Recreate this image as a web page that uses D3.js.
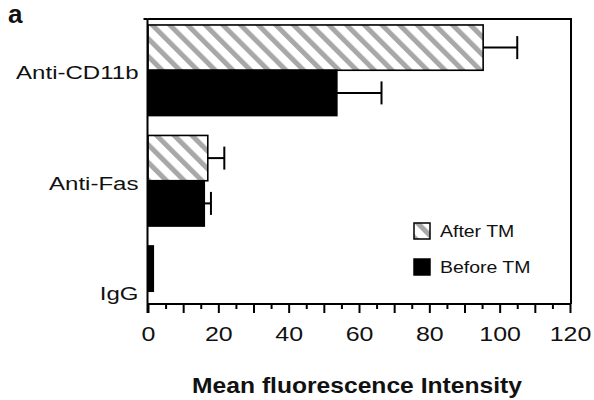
<!DOCTYPE html>
<html>
<head>
<meta charset="utf-8">
<script src="https://cdn.jsdelivr.net/npm/d3@7"></script>
<style>
  html, body { margin: 0; padding: 0; background: #fff; }
  svg { display: block; }
  text { font-family: "Liberation Sans", Arial, Helvetica, sans-serif; fill: #111; }
</style>
</head>
<body>
<svg id="chart" width="594" height="400"></svg>
<script>
// ---- data ----
const categories = ["Anti-CD11b", "Anti-Fas", "IgG"];
const seriesNames = ["After TM", "Before TM"];
const afterTM = [95.3, 17.0, 1.5];
const afterErr = [9.7, 4.7, null];
const beforeTM = [53.7, 16.0, null];
const beforeErr = [12.7, 1.9, null];
const xTickLabels = [0, 20, 40, 60, 80, 100, 120];
const xMinorTicks = d3.range(0, 121, 5);
const xTitle = "Mean fluorescence Intensity";
const panelLabel = "a";

// ---- layout ----
const svg = d3.select("#chart");
const pLeft = 147.5, pRight = 571, pTop = 19, pBottom = 304;

const x = d3.scaleLinear().domain([0, 120]).range([148, 570]);
const y = d3.scaleBand().domain(categories).range([pTop, 342.5])
  .paddingInner(0.18).paddingOuter(0.054);
const ySub = d3.scaleBand().domain(seriesNames).range([0, y.bandwidth()]);

// hatch pattern
const defs = svg.append("defs");
const pat = defs.append("pattern")
  .attr("id", "hatch").attr("patternUnits", "userSpaceOnUse")
  .attr("width", 12.5).attr("height", 12.5)
  .attr("patternTransform", "rotate(-45)");
pat.append("rect").attr("width", 12.5).attr("height", 12.5).attr("fill", "#fff");
pat.append("rect").attr("x", 0).attr("width", 5).attr("height", 12.5).attr("fill", "#a8a8a8");

const fills = {"After TM": "url(#hatch)", "Before TM": "#000"};

const rows = [];
categories.forEach((c, i) => {
  rows.push({cat: c, s: "After TM", v: afterTM[i], e: afterErr[i]});
  rows.push({cat: c, s: "Before TM", v: beforeTM[i], e: beforeErr[i]});
});
const valid = rows.filter(d => d.v != null);

// bars (bars too thin to show the hatch render solid, as in the print)
svg.append("g").selectAll("rect").data(valid).join("rect")
  .attr("x", x(0))
  .attr("y", d => y(d.cat) + ySub(d.s))
  .attr("width", d => x(d.v) - x(0))
  .attr("height", ySub.bandwidth())
  .attr("fill", d => (x(d.v) - x(0) < 8 ? "#000" : fills[d.s]))
  .attr("stroke", "#000").attr("stroke-width", 1.6);

// error bars
const eb = svg.append("g").selectAll("g").data(valid.filter(d => d.e != null)).join("g")
  .attr("transform", d => `translate(0,${y(d.cat) + ySub(d.s) + ySub.bandwidth() / 2})`);
eb.append("line")
  .attr("x1", d => x(d.v)).attr("x2", d => x(d.v + d.e))
  .attr("y1", 0).attr("y2", 0)
  .attr("stroke", "#000").attr("stroke-width", 2);
eb.append("line")
  .attr("x1", d => x(d.v + d.e)).attr("x2", d => x(d.v + d.e))
  .attr("y1", -11.5).attr("y2", 11.5)
  .attr("stroke", "#000").attr("stroke-width", 2);

// frame (top and right)
svg.append("path")
  .attr("d", `M${pLeft},${pTop}H${pRight}V${pBottom}`)
  .attr("fill", "none").attr("stroke", "#000").attr("stroke-width", 2);
svg.append("line").attr("x1", pLeft - 4).attr("x2", pLeft).attr("y1", pTop).attr("y2", pTop)
  .attr("stroke", "#000").attr("stroke-width", 2);

// bottom axis
const xAxis = d3.axisBottom(x).tickValues(xMinorTicks).tickSize(9).tickSizeOuter(0)
  .tickFormat(d => xTickLabels.includes(d) ? d : "");
const gx = svg.append("g").attr("transform", `translate(0,${pBottom})`).call(xAxis);
gx.select(".domain").attr("stroke-width", 2).attr("d", `M${pLeft},0H${pRight}`);
gx.selectAll(".tick line").attr("stroke-width", 2)
  .attr("y2", d => (d % 10 === 0 ? 9 : 5));
gx.selectAll(".tick text")
  .attr("y", 0).attr("dy", null)
  .attr("transform", "translate(0,37) scale(1.28,1)")
  .attr("fill", "#111")
  .style("font-size", "19.5px")
  .style("font-family", "'Liberation Sans', Arial, sans-serif");

// left axis
const yAxis = d3.axisLeft(y).tickSize(0).tickSizeOuter(0);
const gy = svg.append("g").attr("transform", `translate(${pLeft},0)`).call(yAxis);
gy.select(".domain").attr("stroke-width", 2).attr("d", `M0,${pTop}V${pBottom + 9}`);
gy.selectAll(".tick text")
  .attr("x", 0).attr("dy", null).attr("y", 0)
  .attr("text-anchor", "end")
  .attr("fill", "#111")
  .attr("transform", "translate(-9,9) scale(1.3,1)")
  .style("font-size", "18.5px")
  .style("font-family", "'Liberation Sans', Arial, sans-serif");

// axis title
svg.append("text")
  .attr("transform", "translate(357,393) scale(1.12,1)")
  .attr("text-anchor", "middle")
  .style("font-size", "22px").style("font-weight", "bold")
  .text(xTitle);

// panel label
svg.append("text")
  .attr("x", 8).attr("y", 23)
  .style("font-size", "26px").style("font-weight", "bold")
  .text(panelLabel);

// legend
const lg = svg.append("g").selectAll("g").data(seriesNames).join("g")
  .attr("transform", (d, i) => `translate(414,${223 + i * 36})`);
lg.append("rect").attr("width", 16).attr("height", 16)
  .attr("fill", d => fills[d]).attr("stroke", "#000").attr("stroke-width", 1.5);
lg.append("text")
  .attr("transform", "translate(26,14) scale(1.18,1)")
  .style("font-size", "16.5px")
  .text(d => d);
</script>
</body>
</html>
